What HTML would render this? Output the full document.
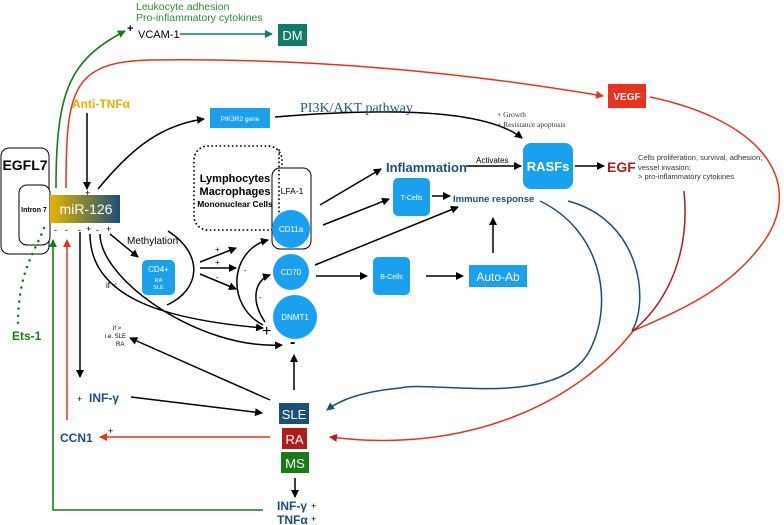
<!DOCTYPE html>
<html><head><meta charset="utf-8"><style>
body{margin:0;background:#fff}
svg{display:block;font-family:"Liberation Sans",sans-serif}
</style></head><body>
<svg width="784" height="525" viewBox="0 0 784 525" xmlns="http://www.w3.org/2000/svg">
<defs>
<marker id="k" markerWidth="8" markerHeight="8" refX="7" refY="4" orient="auto" markerUnits="userSpaceOnUse"><path d="M0,0 L8,4 L0,8 Z" fill="#000"/></marker>
<marker id="g" markerWidth="8" markerHeight="8" refX="7" refY="4" orient="auto" markerUnits="userSpaceOnUse"><path d="M0,0 L8,4 L0,8 Z" fill="#1a7a1a"/></marker>
<marker id="r" markerWidth="8" markerHeight="8" refX="7" refY="4" orient="auto" markerUnits="userSpaceOnUse"><path d="M0,0 L8,4 L0,8 Z" fill="#e8321e"/></marker>
<marker id="dr" markerWidth="8" markerHeight="8" refX="7" refY="4" orient="auto" markerUnits="userSpaceOnUse"><path d="M0,0 L8,4 L0,8 Z" fill="#b01c1c"/></marker>
<marker id="b" markerWidth="8" markerHeight="8" refX="7" refY="4" orient="auto" markerUnits="userSpaceOnUse"><path d="M0,0 L8,4 L0,8 Z" fill="#1b4f7a"/></marker>
<marker id="t" markerWidth="8" markerHeight="8" refX="7" refY="4" orient="auto" markerUnits="userSpaceOnUse"><path d="M0,0 L8,4 L0,8 Z" fill="#137a6a"/></marker>
<linearGradient id="gr" x1="0" x2="1"><stop offset="0" stop-color="#e6b400"/><stop offset="1" stop-color="#1b4f7a"/></linearGradient>
</defs>

<text x="136" y="10" font-size="10.5" fill="#2e8b2e">Leukocyte adhesion</text>
<text x="136" y="21" font-size="10.5" fill="#2e8b2e">Pro-inflammatory cytokines</text>
<text x="127" y="32" font-size="11" font-weight="bold">+</text>
<text x="138" y="38" font-size="11">VCAM-1</text>
<line x1="180" y1="34" x2="272" y2="34" stroke="#137a6a" stroke-width="1.5" marker-end="url(#t)"/>
<rect x="278" y="24" width="29" height="22" fill="#137a6a"/>
<text x="292.5" y="40" font-size="13" fill="#fff" text-anchor="middle">DM</text>

<path d="M56,188 C56,90 70,60 125,31" fill="none" stroke="#1a7a1a" stroke-width="1.6" marker-end="url(#g)"/>
<path d="M66,188 C66,90 72,62 150,60 C300,58 450,70 603,96" fill="none" stroke="#e8321e" stroke-width="1.5" marker-end="url(#r)"/>
<rect x="608" y="84" width="38" height="24" fill="#e8321e"/>
<text x="627" y="100" font-size="10" fill="#fff" font-weight="bold" text-anchor="middle">VEGF</text>
<path d="M650,97 C760,120 805,180 765,240 C730,290 680,310 633,331 C580,400 470,455 330,437" fill="none" stroke="#e8321e" stroke-width="1.5" marker-end="url(#dr)"/>
<path d="M684,191 C690,250 670,300 633,331" fill="none" stroke="#b01c1c" stroke-width="1.5"/>
<path d="M540,201 C600,230 615,300 590,350 C560,410 430,380 400,388 C360,392 340,400 327,410" fill="none" stroke="#1b4f7a" stroke-width="1.5" marker-end="url(#b)"/>
<path d="M568,201 C640,220 650,300 632,331" fill="none" stroke="#1b4f7a" stroke-width="1.5"/>

<rect x="1" y="148" width="48" height="106" rx="8" fill="#fff" stroke="#000"/>
<text x="25" y="170" font-size="14" font-weight="bold" text-anchor="middle">EGFL7</text>
<rect x="19" y="185" width="31" height="60" rx="8" fill="#fff" stroke="#000"/>
<text x="34" y="212" font-size="7" font-weight="bold" text-anchor="middle">Intron 7</text>
<rect x="50" y="195" width="70" height="28" fill="url(#gr)"/>
<text x="86" y="214" font-size="14" fill="#fff" text-anchor="middle">miR-126</text>
<g font-size="9"><text x="54" y="233">-</text><text x="65" y="233">-</text><text x="78" y="233">-</text><text x="86" y="232">+</text><text x="96" y="233">-</text><text x="106" y="232">+</text><text x="85" y="196">+</text></g>
<path d="M44,228 C36,250 18,270 18,325" fill="none" stroke="#1a7a1a" stroke-width="2.5" stroke-dasharray="0.1,7" stroke-linecap="round"/>
<text x="12" y="340" font-size="12" font-weight="bold" fill="#1a7a1a">Ets-1</text>
<text x="72" y="108" font-size="12" font-weight="bold" fill="#e8b000">Anti-TNFα</text>
<line x1="87" y1="113" x2="87" y2="189" stroke="#000" stroke-width="1.5" marker-end="url(#k)"/>

<path d="M263,510 H53 V240" fill="none" stroke="#1a7a1a" stroke-width="1.6" marker-end="url(#g)"/>
<line x1="67" y1="420" x2="67" y2="240" stroke="#e8321e" stroke-width="1.5" marker-end="url(#r)"/>
<line x1="80" y1="232" x2="80" y2="377" stroke="#000" stroke-width="1.5" marker-end="url(#k)"/>

<path d="M98,189 C130,150 160,125 204,119" fill="none" stroke="#000" stroke-width="1.5" marker-end="url(#k)"/>
<rect x="210" y="108" width="60" height="20" fill="#1aa0ee"/>
<text x="240" y="121" font-size="6.5" fill="#fff" text-anchor="middle">PIK3R2 gene</text>
<path d="M275,117 C360,110 480,105 522,138" fill="none" stroke="#000" stroke-width="1.5" marker-end="url(#k)"/>
<text x="300" y="112" font-size="14" font-family="Liberation Serif,serif" fill="#1b5a8a">PI3K/AKT pathway</text>
<text x="497" y="117" font-size="7.5" font-family="Liberation Serif,serif" fill="#333">+ Growth</text>
<text x="497" y="127" font-size="7.5" font-family="Liberation Serif,serif" fill="#333">+ Resistance apoptosis</text>

<rect x="523" y="143" width="50" height="46" rx="8" fill="#1aa0ee"/>
<text x="548" y="171" font-size="13" font-weight="bold" fill="#fff" text-anchor="middle">RASFs</text>
<text x="386" y="172" font-size="13" font-weight="bold" fill="#1b4f7a">Inflammation</text>
<line x1="466" y1="166" x2="521" y2="166" stroke="#000" stroke-width="1.5" marker-end="url(#k)"/>
<text x="476" y="163" font-size="8">Activates</text>
<line x1="575" y1="166" x2="604" y2="166" stroke="#000" stroke-width="1.5" marker-end="url(#k)"/>
<text x="607" y="172" font-size="14" font-weight="bold" fill="#b01c1c">EGF</text>
<g font-size="7.5" fill="#333"><text x="638" y="160">Cells proliferation, survival, adhesion;</text><text x="638" y="170">vessel invasion;</text><text x="638" y="179">&gt; pro-inflammatory cytokines</text></g>

<rect x="194" y="146" width="88" height="84" rx="14" fill="none" stroke="#000" stroke-width="1.8" stroke-dasharray="0.1,4" stroke-linecap="round"/>
<text x="235" y="182" font-size="11" font-weight="bold" text-anchor="middle">Lymphocytes</text>
<text x="235" y="195" font-size="11" font-weight="bold" text-anchor="middle">Macrophages</text>
<text x="235" y="207" font-size="8.5" font-weight="bold" text-anchor="middle">Mononuclear Cells</text>
<rect x="272" y="168" width="39" height="81" rx="8" fill="#fff" stroke="#000"/>
<line x1="279" y1="150" x2="279" y2="235" stroke="#000" stroke-width="1.8" stroke-dasharray="0.1,4" stroke-linecap="round"/>
<text x="292" y="194" font-size="8.5" text-anchor="middle">LFA-1</text>
<circle cx="291" cy="229" r="19" fill="#1aa0ee"/>
<text x="291" y="232" font-size="8" fill="#fff" text-anchor="middle">CD11a</text>
<circle cx="291" cy="272" r="18" fill="#1aa0ee"/>
<text x="291" y="275" font-size="8" fill="#fff" text-anchor="middle">CD70</text>
<circle cx="295" cy="317" r="22" fill="#1aa0ee"/>
<text x="295" y="320" font-size="8" fill="#fff" text-anchor="middle">DNMT1</text>

<rect x="393" y="178" width="37" height="38" rx="5" fill="#1aa0ee"/>
<text x="411.5" y="200" font-size="7" fill="#fff" text-anchor="middle">T-Cells</text>
<rect x="373" y="257" width="37" height="38" rx="5" fill="#1aa0ee"/>
<text x="391.5" y="279" font-size="7" fill="#fff" text-anchor="middle">B-Cells</text>
<rect x="469" y="265" width="58" height="22" fill="#1aa0ee"/>
<text x="498" y="281" font-size="12" fill="#fff" text-anchor="middle">Auto-Ab</text>
<text x="453" y="202" font-size="9.5" font-weight="bold" fill="#1b4f7a">Immune response</text>

<g stroke="#000" stroke-width="1.5" fill="none">
<line x1="320" y1="205" x2="381" y2="169" marker-end="url(#k)"/>
<line x1="323" y1="225" x2="389" y2="199" marker-end="url(#k)"/>
<line x1="432" y1="196" x2="450" y2="196" marker-end="url(#k)"/>
<line x1="315" y1="265" x2="458" y2="207" marker-end="url(#k)"/>
<line x1="316" y1="276" x2="367" y2="276" marker-end="url(#k)"/>
<line x1="426" y1="276" x2="463" y2="276" marker-end="url(#k)"/>
<line x1="493" y1="253" x2="493" y2="218" marker-end="url(#k)"/>
<line x1="294" y1="390" x2="294" y2="355" marker-end="url(#k)"/>
<path d="M110,234 L138,257" marker-end="url(#k)"/>
<path d="M168,231 C205,255 200,290 167,305"/>
<path d="M200,262 L236,248" marker-end="url(#k)"/>
<path d="M200,268 L236,268" marker-end="url(#k)"/>
<path d="M200,274 L236,289" marker-end="url(#k)"/>
<path d="M263,325 C225,305 230,250 268,240" marker-end="url(#k)"/>
<path d="M265,322 C250,300 255,280 270,275" marker-end="url(#k)"/>
<path d="M90,234 C90,300 170,320 263,328" marker-end="url(#k)"/>
<path d="M100,234 C100,280 200,350 282,345" marker-end="url(#k)"/>
<path d="M270,400 L130,338" marker-end="url(#k)"/>
<path d="M131,397 L262,413" marker-end="url(#k)"/>
<line x1="295" y1="478" x2="295" y2="497" marker-end="url(#k)"/>
</g>
<text x="127" y="244" font-size="10">Methylation</text>
<rect x="142" y="260" width="33" height="35" rx="5" fill="#1aa0ee"/>
<text x="158.5" y="272" font-size="8" fill="#fff" text-anchor="middle">CD4+</text>
<text x="158.5" y="282" font-size="5.5" fill="#fff" text-anchor="middle">RA</text>
<text x="158.5" y="289" font-size="5.5" fill="#fff" text-anchor="middle">SLE</text>
<g font-size="8"><text x="215" y="252">+</text><text x="215" y="265">+</text><text x="216" y="280">-</text><text x="244" y="273">-</text><text x="259" y="300">-</text><text x="106" y="288">if &lt;</text>
<text x="113" y="330" font-size="6">if &gt;</text><text x="105" y="338" font-size="6">i.e. SLE</text><text x="116" y="346" font-size="6">RA</text></g>
<text x="262" y="336" font-size="16">+</text>
<text x="290" y="347" font-size="16" font-weight="bold">-</text>

<rect x="279" y="403" width="30" height="21" fill="#1b4f7a"/>
<text x="294" y="419" font-size="13" fill="#fff" text-anchor="middle">SLE</text>
<rect x="282" y="428" width="25" height="21" fill="#b01c1c"/>
<text x="294.5" y="444" font-size="13" fill="#fff" text-anchor="middle">RA</text>
<rect x="281" y="452" width="28" height="21" fill="#1a7a1a"/>
<text x="295" y="468" font-size="13" fill="#fff" text-anchor="middle">MS</text>
<line x1="270" y1="437" x2="100" y2="437" stroke="#e8321e" stroke-width="1.5" marker-end="url(#r)"/>
<text x="60" y="442" font-size="12" font-weight="bold" fill="#1b4f7a">CCN1</text>
<text x="108" y="434" font-size="9">+</text>
<text x="77" y="402" font-size="9">+</text>
<text x="89" y="402" font-size="12" font-weight="bold" fill="#1b4f7a">INF-γ</text>
<text x="277" y="510" font-size="12" font-weight="bold" fill="#1b4f7a">INF-γ</text><text x="311" y="509" font-size="9">+</text>
<text x="277" y="524" font-size="12" font-weight="bold" fill="#1b4f7a">TNFα</text><text x="311" y="522" font-size="9">+</text>
</svg>
</body></html>
